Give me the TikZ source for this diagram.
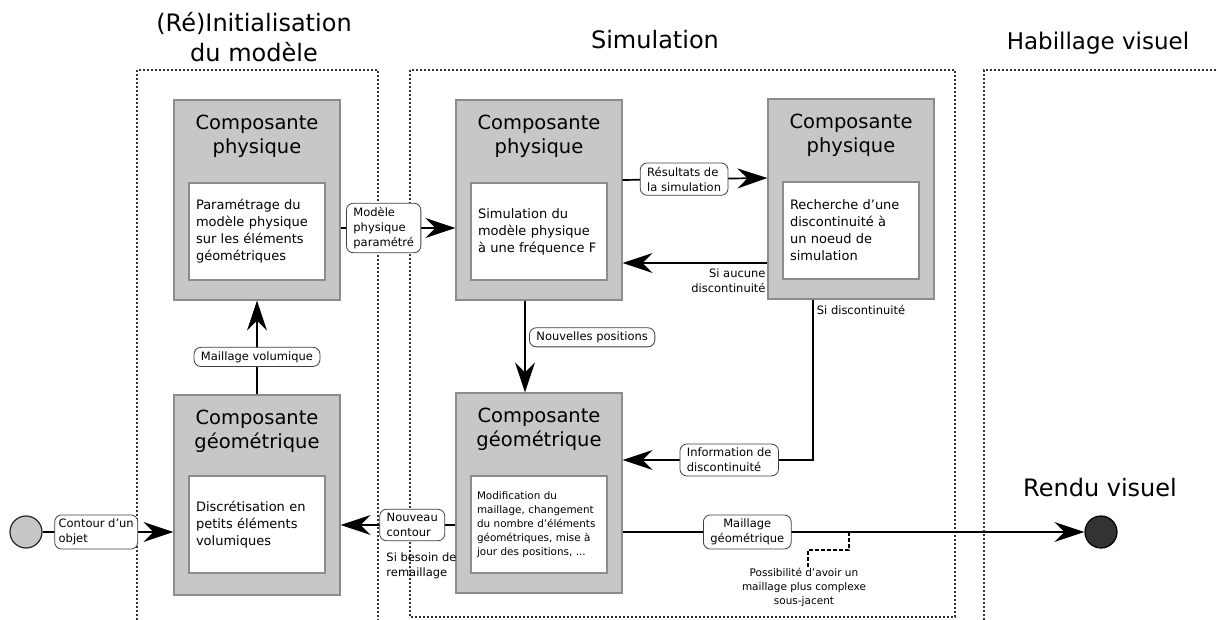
\documentclass[tikz,border=0pt]{standalone}
\usepackage{fontspec}
\setmainfont{DejaVu Sans}
\usetikzlibrary{arrows.meta,positioning}

\begin{document}
\begin{tikzpicture}[x=1pt,y=-1pt,
    comp/.style={draw=black!45, fill=black!22, line width=1.2pt, minimum width=166pt, minimum height=200pt},
    ctitle/.style={anchor=north, align=center, font=\fontsize{19.5}{24}\selectfont},
    inbox/.style={draw=black!45, fill=white, line width=1.2pt, text width=122pt, inner sep=7pt, minimum height=97pt, align=left, font=\fontsize{13}{17}\selectfont},
    lbl/.style={draw=black!75, fill=white, rounded corners=7pt, line width=0.8pt, inner xsep=7pt, inner ysep=4pt, align=left, font=\fontsize{11.5}{15}\selectfont},
    note/.style={inner sep=1pt, font=\fontsize{11.5}{15}\selectfont},
    flow/.style={line width=1.7pt, -{Stealth[length=30pt,width=20pt,inset=10pt]}},
    zone/.style={line width=1.6pt, dash pattern=on 1.6pt off 2.4pt, black!80},
    phase/.style={align=center, font=\fontsize{24}{30}\selectfont}]
  \useasboundingbox (0,0) rectangle (1216,620);

  % phases
  \draw[zone] (137,620) -- (137,70) -- (378,70) -- (378,620);
  \draw[zone] (410,70) rectangle (955,617);
  \draw[zone] (1220,70) -- (984,70) -- (984,620);
  \node[phase] (tinit) at (254,37) {(Ré)Initialisation\\du modèle};
  \node[phase] (tsim) at (655,40) {Simulation};
  \node[phase, font=\fontsize{23}{28}\selectfont] (thab) at (1098,43) {Habillage visuel};

  % composantes
  \node[comp] (ipb) at (257,200) {};
  \node[ctitle] (ipt) at ([yshift=-12pt]ipb.north) {Composante\\physique};
  \node[inbox] (ipi) at ([yshift=-31.5pt]ipb.center) {Paramétrage du\\modèle physique\\sur les éléments\\géométriques};

  \node[comp] (igb) at (257,495) {};
  \node[ctitle] (igt) at ([yshift=-12pt]igb.north) {Composante\\géométrique};
  \node[inbox] (igi) at ([yshift=-29.5pt]igb.center) {Discrétisation en\\petits éléments\\volumiques};

  \node[comp] (spb) at (539,200) {};
  \node[ctitle] (spt) at ([yshift=-12pt]spb.north) {Composante\\physique};
  \node[inbox] (spi) at ([yshift=-31.5pt]spb.center) {Simulation du\\modèle physique\\à une fréquence F};

  \node[comp] (dpb) at (851,199) {};
  \node[ctitle] (dpt) at ([yshift=-12pt]dpb.north) {Composante\\physique};
  \node[inbox] (dpi) at ([yshift=-31.5pt]dpb.center) {Recherche d'une\\discontinuité à\\un noeud de\\simulation};

  \node[comp] (sgb) at (539,493) {};
  \node[ctitle] (sgt) at ([yshift=-12pt]sgb.north) {Composante\\géométrique};
  \node[inbox, inner sep=6pt, text width=124pt, font=\fontsize{10.4}{14}\selectfont] (sgi) at ([yshift=-31.5pt]sgb.center)
    {Modification du\\maillage, changement\\du nombre d'éléments\\géométriques, mise à\\jour des positions, ...};

  % debut et fin
  \node[circle, draw=black!85, fill=black!22, line width=1.2pt, minimum size=32pt, inner sep=0pt] (s0) at (26,532) {};
  \node[circle, draw=black, fill=black!80, line width=1.2pt, minimum size=32pt, inner sep=0pt] (e0) at (1101,532) {};
  \node[phase] (trendu) at (1100,488) {Rendu visuel};

  % flux
  \draw[flow] (s0) -- node[lbl, pos=0.41, inner xsep=4pt] (lco) {Contour d'un\\objet} (s0 -| igb.west);
  \draw[flow] (igb) -- node[lbl, pos=0.4] (lmv) {Maillage volumique} (ipb);
  \draw[flow] ([yshift=-28pt]ipb.east) -- node[lbl, pos=0.375] (lmp) {Modèle\\physique\\paramétré} ([yshift=-28pt]spb.west);
  \draw[flow] ([yshift=20pt]spb.east) -- node[lbl, pos=0.425] (lrs) {Résultats de\\la simulation} ([yshift=21pt]dpb.west);
  \draw[flow] ([yshift=-64pt]dpb.west)
    -- node[note, at start, below left, align=right, yshift=-4pt] (tsa) {Si aucune\\discontinuité}
    ([yshift=-63pt]spb.east);
  \draw[flow] ([xshift=-14pt]spb.south) -- node[lbl, pos=0.4, right=4pt] (lnp) {Nouvelles positions} ([xshift=-14pt]sgb.north);
  \draw[flow] ([xshift=-38pt]dpb.south)
    |- node[note, at start, below right, xshift=2pt, yshift=-4pt] (tsd) {Si discontinuité}
       node[lbl, pos=0.72] (lid) {Information de\\discontinuité}
    ([yshift=33pt]sgb.east);
  \draw[flow] ([yshift=-32pt]sgb.west) -- node[lbl, pos=0.376] (lnc) {Nouveau\\contour} ([yshift=-30pt]igb.east);
  \node[note, align=left, anchor=north west] (tbr) at ([xshift=6pt, yshift=-10pt]lnc.south west) {Si besoin de\\remaillage};
  \draw[flow] ([yshift=-39pt]sgb.east) -- node[lbl, pos=0.27, align=center] (lmg) {Maillage\\géométrique} (e0);

  % remarque
  \coordinate (tap) at (849,532);
  \node[note, align=center, font=\fontsize{10.5}{14}\selectfont] (tpc) at (804,587) {Possibilité d'avoir un\\maillage plus complexe\\sous-jacent};
  \draw[line width=1.2pt, dash pattern=on 4pt off 2pt] (tap) -- ++(0,18) -| ([xshift=4pt]tpc.north);
\end{tikzpicture}
\end{document}
